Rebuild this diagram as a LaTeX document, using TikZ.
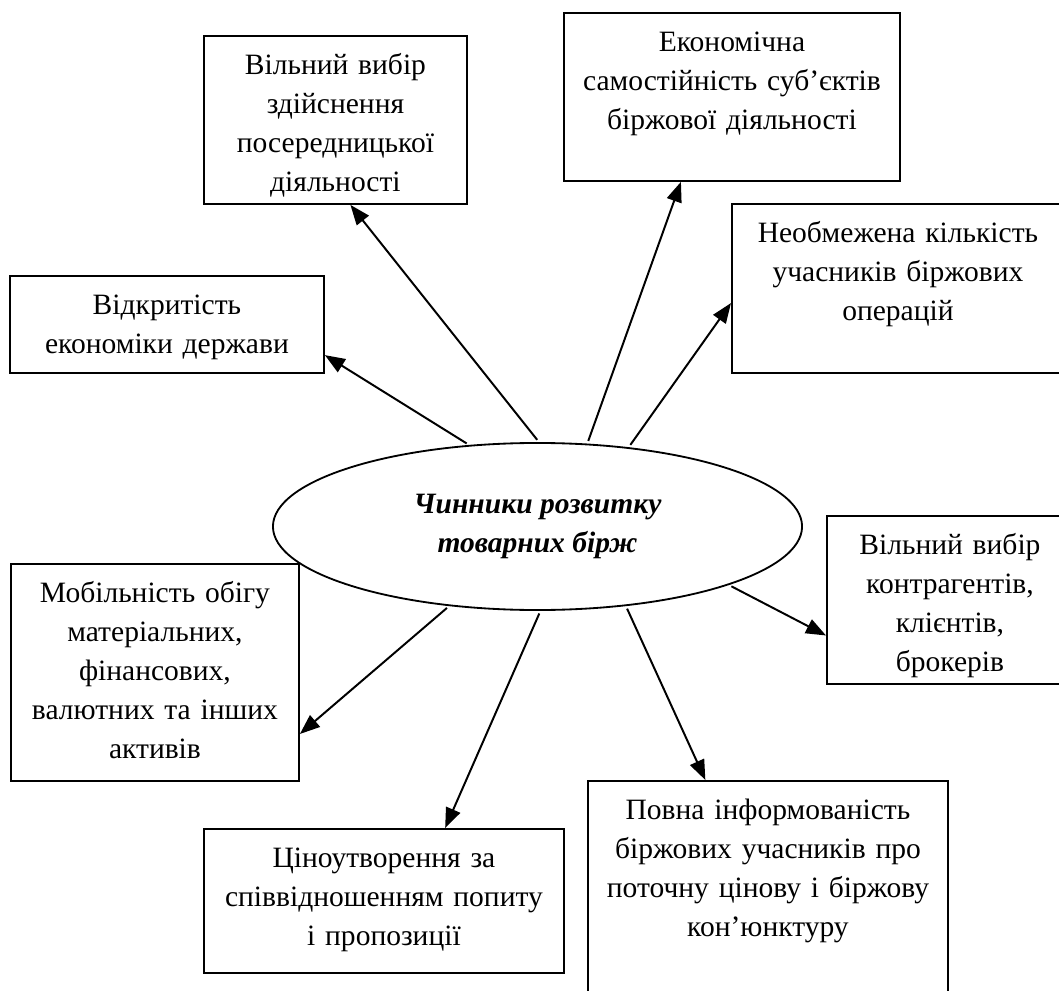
\documentclass[tikz,border=0pt]{standalone}
\usepackage{fontspec}
\setmainfont{Liberation Serif}
\usetikzlibrary{shapes.geometric, arrows.meta}

\begin{document}
\begin{tikzpicture}[x=0.025cm, y=-0.025cm,
    box/.style={rectangle, draw, line width=1.3pt, anchor=north west, align=center, inner sep=0pt, text height=0.975cm, font=\fontsize{21}{27.7}\selectfont},
    hub/.style={ellipse, draw, line width=1.3pt, minimum width=13.225cm, minimum height=4.175cm, inner sep=0pt, align=center, font=\fontsize{21}{27.7}\selectfont\bfseries\itshape},
    arrow/.style={-{Triangle[length=0.5cm, width=0.38cm]}, line width=1.4pt, shorten <=2pt}
]
\useasboundingbox (0,0) rectangle (1059,991);

\node[hub] (hub) at (537.5,526.5) {Чинники розвитку\\товарних бірж};

\node[box, text width=6.575cm, text depth=3.225cm] (free) at (203,35) {Вільний вибір\\здійснення\\посередницької\\діяльності};
\node[box, text width=8.4cm, text depth=3.225cm] (indep) at (563,12) {Економічна\\самостійність суб’єктів\\біржової діяльності};
\node[box, text width=8.3cm, text depth=3.25cm] (unlim) at (731,203) {Необмежена кількість\\учасників біржових\\операцій};
\node[box, text width=7.85cm, text depth=1.45cm] (open) at (9,275) {Відкритість\\економіки держави};
\node[box, text width=6.15cm, text depth=3.225cm] (choice) at (826,515) {Вільний вибір\\контрагентів,\\клієнтів,\\брокерів};
\node[box, text width=7.2cm, text depth=4.45cm] (mobil) at (10,563) {Мобільність обігу\\матеріальних,\\фінансових,\\валютних та інших\\активів};
\node[box, text width=9cm, text depth=2.625cm] (price) at (203,828) {Ціноутворення за\\співвідношенням попиту\\і пропозиції};
\node[box, text width=9cm, text depth=4.4cm] (info) at (587,780) {Повна інформованість\\біржових учасників про\\поточну цінову і біржову\\кон’юнктуру};

\draw[arrow] (hub.130) -- (open.-11);
\draw[arrow] (hub.89) -- (free.-80);
\draw[arrow] (hub.59) -- (indep.-121);
\draw[arrow] (hub.41) -- (unlim.185);
\draw[arrow] (hub.-17) -- (choice.196);
\draw[arrow] (hub.-42) -- (info.120);
\draw[arrow] (hub.-88) -- (price.50);
\draw[arrow] (hub.-138) -- (mobil.-23);

\end{tikzpicture}
\end{document}
